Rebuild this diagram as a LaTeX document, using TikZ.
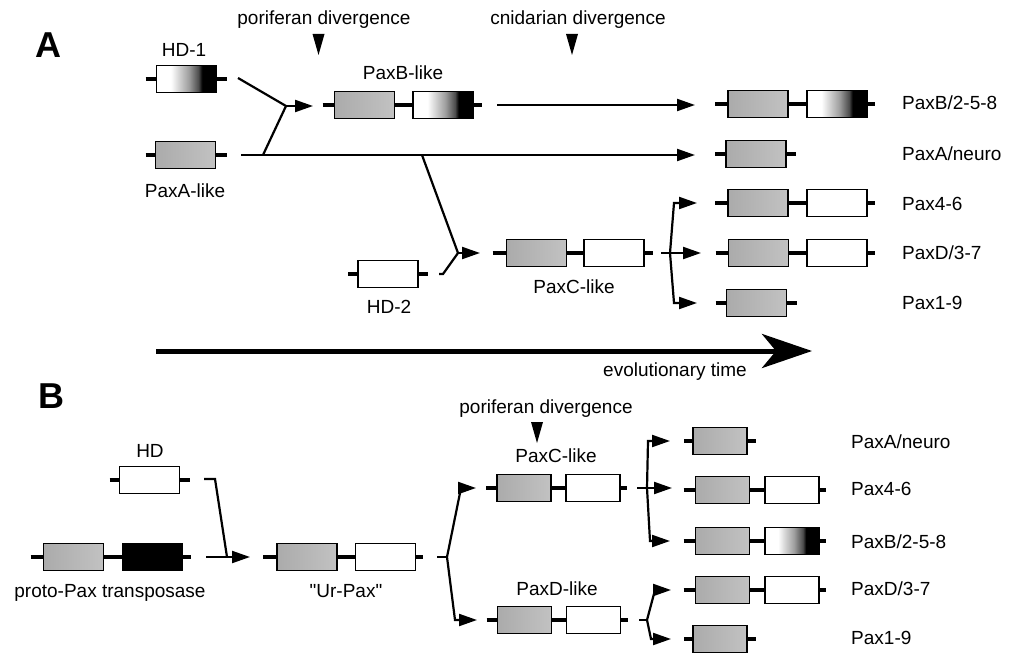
\documentclass[tikz,border=0pt]{standalone}
\usepackage{fontspec}
\setmainfont{Liberation Sans}
\newfontfamily\plainsans{Liberation Sans}
\usetikzlibrary{arrows.meta}
\pgfdeclarehorizontalshading{hdgrad}{100bp}{color(0bp)=(white); color(37bp)=(white); color(44bp)=(black!18); color(52bp)=(black!38); color(60bp)=(black!70); color(63bp)=(black); color(100bp)=(black)}
\newcommand\stubL[2]{\draw[stub] ([xshift=-#2pt]#1.west) -- (#1.west);}
\newcommand\stubR[2]{\draw[stub] (#1.east) -- ([xshift=#2pt]#1.east);}
\newcommand\linkbox[2]{\draw[stub] (#1.east) -- (#2.west);}
\begin{document}
\begin{tikzpicture}[x=1pt,y=-1pt,
  box/.style={draw, line width=1.4pt, minimum width=60pt, minimum height=27pt, inner sep=0pt, outer sep=0pt},
  narrow/.style={minimum width=54pt},
  pd/.style={box, left color=black!33, right color=black!24},
  hdw/.style={box, fill=white},
  hdg/.style={box, shading=hdgrad},
  blk/.style={box, fill=black},
  stub/.style={line width=4.5pt},
  conn/.style={line width=2.2pt},
  arr/.style={conn, -{Triangle[length=18pt,width=12pt]}},
  lbl/.style={font=\fontsize{19}{22}\selectfont, inner sep=0pt, anchor=base},
  rlbl/.style={lbl, anchor=base west},
  panel/.style={font=\bfseries\fontsize{36}{40}\selectfont, inner sep=0pt, anchor=base west}]
\useasboundingbox (0,0) rectangle (1019,658);

% ================= Panel A =================
\node[panel] (labA) at (35,58) {A};
\node[lbl] (tporA) at (324,25) {poriferan divergence};
\node[lbl] (tcni) at (578,25) {cnidarian divergence};
\fill (312.5,34) -- (324.5,34) -- (318.5,55) -- cycle;
\fill (566,34) -- (578,34) -- (572,55) -- cycle;

% HD-1 and PaxA-like
\node[lbl] (thd1) at (184,57) {HD-1};
\node[hdg] (a_hd1) at (186.5,79) {};
\stubL{a_hd1}{11}\stubR{a_hd1}{10}
\node[pd] (a_paxa) at (185.5,155) {};
\stubL{a_paxa}{10}\stubR{a_paxa}{11}
\node[lbl] (tpaxa) at (185,197) {PaxA-like};

% merge to PaxB-like
\coordinate (m1) at (286,106);
\coordinate (m1a) at (238,78);
\coordinate (m1b) at (263,155);
\draw[conn] (m1a) -- (m1);
\draw[conn] (m1b) -- (m1);
\coordinate (m1t) at (313,106);
\draw[arr] (m1) -- (m1t);

% PaxB-like
\node[lbl] (tpaxb) at (403,80) {PaxB-like};
\node[pd] (a_pb1) at (364.5,105) {};
\node[hdg] (a_pb2) at (443,105) {};
\stubL{a_pb1}{12}\linkbox{a_pb1}{a_pb2}\stubR{a_pb2}{9}
\coordinate (pbs) at (497,105);
\coordinate (pbt) at (695,105);
\draw[arr] (pbs) -- (pbt);

% PaxA line
\coordinate (pas) at (241,155);
\coordinate (pat) at (695,155);
\draw[arr] (pas) -- (pat);

% HD-2 and PaxC-like
\node[hdw] (a_hd2) at (388,274) {};
\stubL{a_hd2}{10}\stubR{a_hd2}{10}
\node[lbl] (thd2) at (389,313) {HD-2};
\coordinate (m2) at (458,253);
\coordinate (m2a) at (422,155);
\coordinate (m2b) at (439,274);
\coordinate (m2c) at (443,274);
\draw[conn] (m2a) -- (m2);
\draw[conn] (m2b) -- (m2c) -- (m2);
\coordinate (m2t) at (480,253);
\draw[arr] (m2) -- (m2t);

\node[pd] (a_pc1) at (536.5,253) {};
\node[hdw] (a_pc2) at (614,253) {};
\stubL{a_pc1}{14}\linkbox{a_pc1}{a_pc2}\stubR{a_pc2}{9}
\node[lbl] (tpaxc) at (574,293) {PaxC-like};

% branch A
\coordinate (va) at (670,253);
\coordinate (va0) at (661,253);
\draw[conn] (va0) -- (va);
\coordinate (vau) at (674,203);
\coordinate (vaut) at (697,203);
\coordinate (vamt) at (701,253);
\coordinate (vad) at (674,303);
\coordinate (vadt) at (697,303);
\draw[arr] (va) -- (vau) -- (vaut);
\draw[arr] (va) -- (vamt);
\draw[arr] (va) -- (vad) -- (vadt);

% final rows A
\node[pd] (a_r1a) at (758,104) {};
\node[hdg] (a_r1b) at (837,104) {};
\stubL{a_r1a}{13}\linkbox{a_r1a}{a_r1b}\stubR{a_r1b}{8}
\node[rlbl] (ta1) at (902,110) {PaxB/2-5-8};

\node[pd] (a_r2a) at (756,154) {};
\stubL{a_r2a}{11}\stubR{a_r2a}{10}
\node[rlbl] (ta2) at (902,160) {PaxA/neuro};

\node[pd] (a_r3a) at (758,203) {};
\node[hdw] (a_r3b) at (837,203) {};
\stubL{a_r3a}{13}\linkbox{a_r3a}{a_r3b}\stubR{a_r3b}{8}
\node[rlbl] (ta3) at (902,210) {Pax4-6};

\node[pd] (a_r4a) at (758.5,253) {};
\node[hdw] (a_r4b) at (837,253) {};
\stubL{a_r4a}{13}\linkbox{a_r4a}{a_r4b}\stubR{a_r4b}{8}
\node[rlbl] (ta4) at (902,259) {PaxD/3-7};

\node[pd] (a_r5a) at (756.5,303) {};
\stubL{a_r5a}{11}\stubR{a_r5a}{10}
\node[rlbl] (ta5) at (902,309) {Pax1-9};

% evolutionary time
\coordinate (evs) at (156,351);
\coordinate (evt) at (812,351);
\draw[line width=5pt, -{Stealth[length=50pt,width=34pt,inset=14pt]}] (evs) -- (evt);
\node[lbl] (tev) at (675,376) {evolutionary time};

% ================= Panel B =================
\node[panel] (labB) at (38,408) {B};

\node[lbl] (thd) at (150,457) {HD};
\node[hdw] (b_hd) at (149.5,480) {};
\stubL{b_hd}{10}\stubR{b_hd}{10}

\node[pd] (b_pp1) at (73.5,557) {};
\node[blk] (b_pp2) at (152.5,557) {};
\stubL{b_pp1}{13}\linkbox{b_pp1}{b_pp2}\stubR{b_pp2}{8}
\node[lbl] (tpp) at (110,597) {proto-Pax transposase};

\coordinate (h1) at (204,479);
\coordinate (h2) at (215,479);
\coordinate (h3) at (227,557);
\draw[conn] (h1) -- (h2) -- (h3);
\coordinate (hs) at (206,557);
\coordinate (ht) at (250,557);
\draw[arr] (hs) -- (ht);

\node[pd] (b_ur1) at (307,557) {};
\node[hdw] (b_ur2) at (385.5,557) {};
\stubL{b_ur1}{14}\linkbox{b_ur1}{b_ur2}\stubR{b_ur2}{7}
\node[lbl] (tur) at (346,597) {\plainsans "Ur-Pax"};

% first split
\coordinate (vb0) at (437,557);
\coordinate (vb) at (447,557);
\draw[conn] (vb0) -- (vb);
\coordinate (vbu) at (461,488);
\coordinate (vbut) at (476,488);
\coordinate (vbd) at (455,620);
\coordinate (vbdt) at (477,620);
\draw[arr] (vb) -- (vbu) -- (vbut);
\draw[arr] (vb) -- (vbd) -- (vbdt);

% PaxC-like B
\node[lbl] (tporB) at (546,413) {poriferan divergence};
\fill (531,422) -- (543,422) -- (537,443) -- cycle;
\node[lbl] (tpcb) at (556,462) {PaxC-like};
\node[pd,narrow] (b_pc1) at (524,488) {};
\node[hdw,narrow] (b_pc2) at (593,488) {};
\stubL{b_pc1}{11}\linkbox{b_pc1}{b_pc2}\stubR{b_pc2}{7}

% PaxD-like B
\node[lbl] (tpdb) at (557,595) {PaxD-like};
\node[pd,narrow] (b_pd1) at (524.5,620) {};
\node[hdw,narrow] (b_pd2) at (593.5,620) {};
\stubL{b_pd1}{11}\linkbox{b_pd1}{b_pd2}\stubR{b_pd2}{7}

% branches from PaxC-like
\coordinate (vc0) at (637,488);
\coordinate (vc) at (647,488);
\draw[conn] (vc0) -- (vc);
\coordinate (vcu) at (648,441);
\coordinate (vcut) at (670,441);
\coordinate (vcmt) at (672,488);
\coordinate (vcd) at (650,541);
\coordinate (vcdt) at (670,541);
\draw[arr] (vc) -- (vcu) -- (vcut);
\draw[arr] (vc) -- (vcmt);
\draw[arr] (vc) -- (vcd) -- (vcdt);

% branches from PaxD-like
\coordinate (vd0) at (639,620);
\coordinate (vd) at (647,620);
\draw[conn] (vd0) -- (vd);
\coordinate (vdu) at (655,590);
\coordinate (vdut) at (671,590);
\coordinate (vdd) at (651,639);
\coordinate (vddt) at (671,639);
\draw[arr] (vd) -- (vdu) -- (vdut);
\draw[arr] (vd) -- (vdd) -- (vddt);

% final rows B
\node[pd,narrow] (b_r1a) at (720,441) {};
\stubL{b_r1a}{9}\stubR{b_r1a}{9}
\node[rlbl] (tb1) at (851,448) {PaxA/neuro};

\node[pd,narrow] (b_r2a) at (722.5,490) {};
\node[hdw,narrow] (b_r2b) at (792,490) {};
\stubL{b_r2a}{12}\linkbox{b_r2a}{b_r2b}\stubR{b_r2b}{7}
\node[rlbl] (tb2) at (851,495) {Pax4-6};

\node[pd,narrow] (b_r3a) at (722.5,541) {};
\node[hdg,narrow] (b_r3b) at (792,541) {};
\stubL{b_r3a}{12}\linkbox{b_r3a}{b_r3b}\stubR{b_r3b}{7}
\node[rlbl] (tb3) at (851,548) {PaxB/2-5-8};

\node[pd,narrow] (b_r4a) at (722.5,590) {};
\node[hdw,narrow] (b_r4b) at (792,590) {};
\stubL{b_r4a}{12}\linkbox{b_r4a}{b_r4b}\stubR{b_r4b}{7}
\node[rlbl] (tb4) at (851,595) {PaxD/3-7};

\node[pd,narrow] (b_r5a) at (720,639) {};
\stubL{b_r5a}{9}\stubR{b_r5a}{9}
\node[rlbl] (tb5) at (851,644) {Pax1-9};
\end{tikzpicture}
\end{document}
